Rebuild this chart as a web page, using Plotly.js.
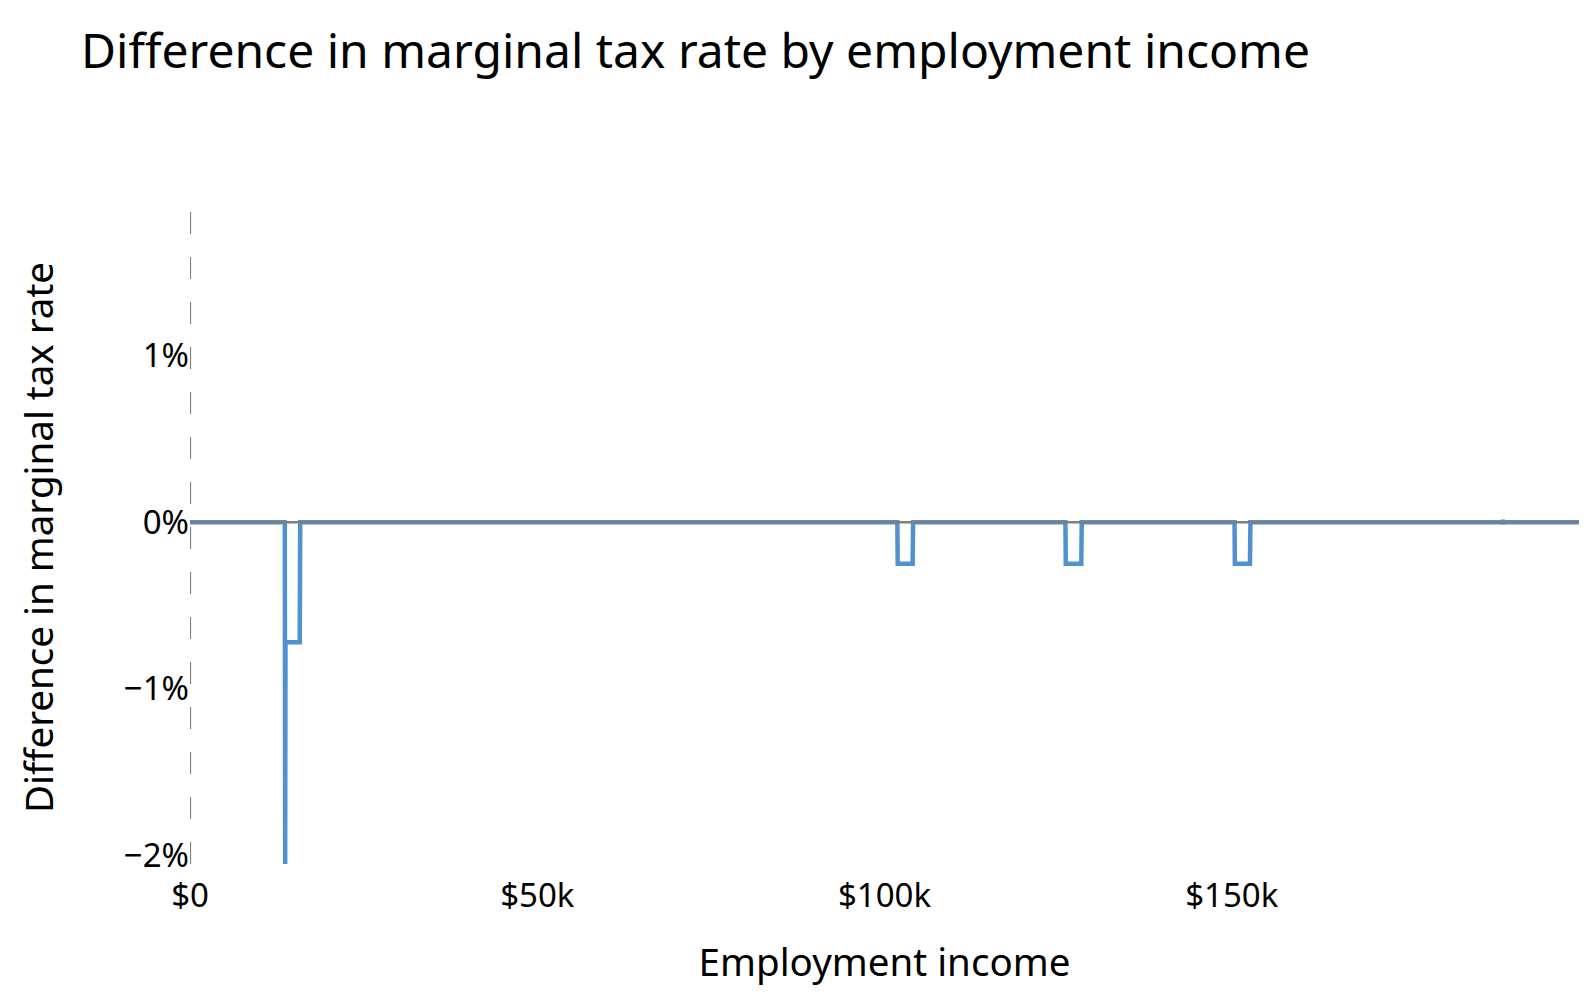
<!DOCTYPE html>
<html>
<head>
<meta charset="utf-8">
<script src="https://cdn.plot.ly/plotly-3.0.1.min.js"></script>
<style>
  html, body { margin: 0; padding: 0; background: #fff; }
  #chart { width: 1596px; height: 1004px; }
</style>
</head>
<body>
<div id="chart"></div>
<script>
// employment income (dollars) and difference in marginal tax rate (percentage points)
const income = [
    0, 13650, 13700, 13750, 15800, 15830, 15870,
    40750, 40780, 40810, 40840,
    101850, 101900, 104050, 104080, 104120,
    126050, 126100, 128330, 128360, 128400,
    150400, 150450, 152620, 152650, 152690,
    189000, 189030, 189060, 189090,
    200000
];
const mtrDifference = [
    0, 0, -2.05, -0.72, -0.72, -0.48, 0,
    0, 0.01, -0.01, 0,
    0, -0.25, -0.25, -0.13, 0,
    0, -0.25, -0.25, -0.13, 0,
    0, -0.25, -0.25, -0.13, 0,
    0, 0.015, -0.015, 0,
    0
];

const xTickVals = [0, 50000, 100000, 150000];
const xTickText = ["$0", "$50k", "$100k", "$150k"];
const yTickVals = [-2, -1, 0, 1];
const yTickText = ["\u22122%", "\u22121%", "0%", "1%"];

const fontFamily = "Noto Sans, Open Sans, sans-serif";
const grey = "#7f7f7f";

const data = [
    {
        x: income,
        y: mtrDifference,
        type: "scatter",
        mode: "lines",
        line: { color: "#5291cf", width: 4.5 },
        hoverinfo: "x+y",
    },
];

const layout = {
    width: 1596,
    height: 1004,
    margin: { l: 190, r: 17, t: 211, b: 140 },
    paper_bgcolor: "#fff",
    plot_bgcolor: "#fff",
    font: { family: fontFamily, color: "#000", size: 33 },
    showlegend: false,
    title: {
        text: "Difference in marginal tax rate by employment income",
        font: { size: 48, family: fontFamily, color: "#000" },
        xref: "container",
        yref: "container",
        x: 81 / 1596,
        xanchor: "left",
        y: 1 - 51 / 1004,
        yanchor: "middle",
    },
    xaxis: {
        range: [0, 200000],
        tickvals: xTickVals,
        ticktext: xTickText,
        showgrid: false,
        zeroline: false,
        showline: false,
        ticks: "outside",
        ticklen: 2,
        tickcolor: "rgba(0,0,0,0)",
        tickfont: { size: 33 },
        title: { text: "Employment income", font: { size: 38.5 }, standoff: 33 },
    },
    yaxis: {
        range: [-2.05, 1.866],
        tickvals: yTickVals,
        ticktext: yTickText,
        showgrid: false,
        zeroline: false,
        showline: false,
        ticks: "",
        tickfont: { size: 33 },
        title: { text: "Difference in marginal tax rate", font: { size: 38.5 }, standoff: 58 },
    },
    shapes: [
        {
            type: "line",
            xref: "x",
            yref: "paper",
            x0: 0,
            x1: 0,
            y0: 0,
            y1: 1,
            layer: "above",
            line: { color: grey, width: 2.2, dash: "22px,23px" },
        },
        {
            type: "line",
            xref: "paper",
            yref: "y",
            x0: 0,
            x1: 1,
            y0: 0,
            y1: 0,
            layer: "above",
            line: { color: grey, width: 2.5 },
        },
    ],
};

Plotly.newPlot("chart", data, layout, { displayModeBar: false, responsive: false });
</script>
</body>
</html>
